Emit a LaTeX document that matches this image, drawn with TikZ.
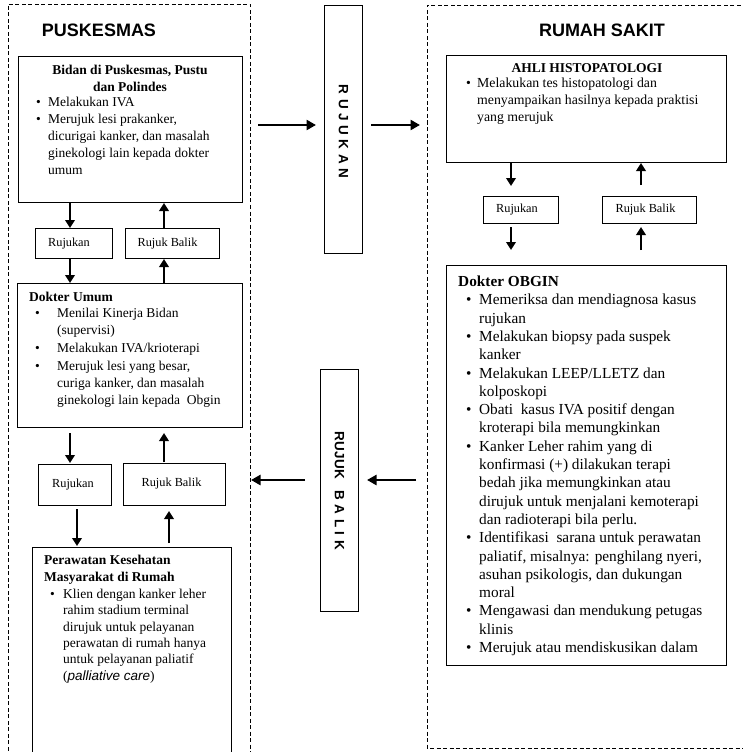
\documentclass[tikz,border=0pt]{standalone}
\usepackage{fontspec}
\setmainfont{Liberation Serif}
\setsansfont{Liberation Sans}
\usetikzlibrary{arrows.meta}
\newcommand\Bu[1]{\makebox[#1][l]{\textbullet}}
\newcommand\Co[1]{\hspace*{#1}}
\begin{document}
\begin{tikzpicture}[x=1pt,y=-1pt,
  frame/.style={line width=0.8pt, dash pattern=on 4pt off 2.5pt},
  box/.style={draw, line width=1pt, inner sep=0pt, anchor=north west},
  sbox/.style={box, font=\fontsize{12.3pt}{14pt}\selectfont},
  vbox/.style={box},
  arr/.style={line width=2.8pt, -{Triangle[length=8pt,width=9.5pt]}},
  harr/.style={line width=2.8pt, -{Triangle[length=9.5pt,width=10pt]}},
  title/.style={font=\sffamily\bfseries\fontsize{18pt}{20pt}\selectfont, inner sep=0pt},
  vtext/.style={font=\sffamily\bfseries\fontsize{13.5pt}{16pt}\selectfont, inner sep=0pt, rotate=-90},
  txt/.style={inner sep=0pt, align=left, anchor=north west, font=\fontsize{13.5pt}{17pt}\selectfont},
  txtc/.style={inner sep=0pt, align=center, anchor=north, font=\fontsize{13.5pt}{17pt}\selectfont\bfseries},
  big/.style={inner sep=0pt, align=left, anchor=north west, font=\fontsize{15.3pt}{18.3pt}\selectfont}
]
\useasboundingbox (0,0) rectangle (743,752);
\fill[white] (0,0) rectangle (743,752);

% frames
\draw[frame] (8,770) -- (8,4) -- (250,4) -- (250,770);
\draw[frame] (760,5) -- (427,5) -- (427,748) -- (760,748);

% titles
\node[title] (tpus) at (99,30) {PUSKESMAS};
\node[title] (trs) at (602,30) {RUMAH SAKIT};

% left column boxes
\node[box, minimum width=224pt, minimum height=146pt] (bidan) at (18,56) {};
\node[sbox, minimum width=77pt, minimum height=30pt] (rj1) at (35,228) {Rujukan\hspace*{10pt}};
\node[sbox, minimum width=94pt, minimum height=30pt] (rb1) at (125,228) {Rujuk Balik\hspace*{10pt}};
\node[box, minimum width=225pt, minimum height=144pt] (umum) at (17,283) {};
\node[sbox, minimum width=73pt, minimum height=41pt] (rj2) at (38,464) {\raisebox{3pt}{Rujukan\hspace*{4pt}}};
\node[sbox, minimum width=102pt, minimum height=42pt] (rb2) at (123,463) {\raisebox{4pt}{Rujuk Balik\hspace*{6pt}}};
\node[box, minimum width=199pt, minimum height=240pt] (rawat) at (32,547) {};

% middle boxes
\node[vbox, minimum width=38pt, minimum height=248pt] (rujukan) at (324,5) {};
\node[vtext] (rujukant) at ([yshift=-2pt]rujukan.center) {R\kern4.6pt U\kern4.6pt J\kern4.6pt U\kern4.6pt K\kern4.6pt A\kern4.6pt N};
\node[vbox, minimum width=38pt, minimum height=242pt] (balik) at (320,369) {};
\node[vtext] (balikt) at (balik.center) {R\kern0.5pt U\kern0.5pt J\kern0.5pt U\kern0.5pt K\kern11pt B\kern4.5pt A\kern4.5pt L\kern4.5pt I\kern4.5pt K};

% right column boxes
\node[box, minimum width=280pt, minimum height=107pt] (ahli) at (446,55) {};
\node[sbox, minimum width=75pt, minimum height=27pt] (rj3) at (483,196) {Rujukan\hspace*{8pt}};
\node[sbox, minimum width=94pt, minimum height=27pt] (rb3) at (602,196) {Rujuk Balik\hspace*{8pt}};
\node[box, minimum width=280pt, minimum height=400pt] (obgin) at (446,265) {};

% texts: Bidan
\node[txtc] (bidant) at (130,65) {Bidan di Puskesmas, Pustu\\dan Polindes};
\node[txt] (bidanl) at (36,97) {\Bu{12pt}Melakukan IVA\\
\Bu{12pt}Merujuk lesi prakanker,\\
\Co{12pt}dicurigai kanker, dan masalah\\
\Co{12pt}ginekologi lain kepada dokter\\
\Co{12pt}umum};

% Dokter Umum
\node[txt, font=\fontsize{13.5pt}{17pt}\selectfont\bfseries] (umumt) at (29,292) {Dokter Umum};
\node[txt] (umuml) at (35,308) {\Bu{22pt}Menilai Kinerja Bidan\\
\Co{22pt}(supervisi)\\[1pt]
\Bu{22pt}Melakukan IVA/krioterapi\\[1pt]
\Bu{22pt}Merujuk lesi yang besar,\\
\Co{22pt}curiga kanker, dan masalah\\
\Co{22pt}ginekologi lain kepada~ Obgin};

% Perawatan
\node[txt, font=\fontsize{13.5pt}{17pt}\selectfont\bfseries] (rawatt) at (44,555) {Perawatan Kesehatan\\Masyarakat di Rumah};
\node[txt, font=\fontsize{13.5pt}{16.3pt}\selectfont] (rawatl) at (50,589) {\Bu{13pt}Klien dengan kanker leher\\
\Co{13pt}rahim stadium terminal\\
\Co{13pt}dirujuk untuk pelayanan\\
\Co{13pt}perawatan di rumah hanya\\
\Co{13pt}untuk pelayanan paliatif\\
\Co{13pt}({\sffamily\itshape palliative care})};

% AHLI
\node[txtc] (ahlit) at (587,63) {AHLI HISTOPATOLOGI};
\node[txt, font=\fontsize{13.8pt}{16.8pt}\selectfont] (ahlil) at (466,78) {\Bu{11pt}Melakukan tes histopatologi dan\\
\Co{11pt}menyampaikan hasilnya kepada praktisi\\
\Co{11pt}yang merujuk};

% OBGIN
\node[big, font=\fontsize{15.3pt}{18.3pt}\selectfont\bfseries] (obgint) at (458,276) {Dokter OBGIN};
\node[big] (obginl) at (466,294) {\Bu{13pt}Memeriksa dan mendiagnosa kasus\\
\Co{13pt}rujukan\\
\Bu{13pt}Melakukan biopsy pada suspek\\
\Co{13pt}kanker\\
\Bu{13pt}Melakukan LEEP/LLETZ dan\\
\Co{13pt}kolposkopi\\
\Bu{13pt}Obati~ kasus IVA positif dengan\\
\Co{13pt}kroterapi bila memungkinkan\\
\Bu{13pt}Kanker Leher rahim yang di\\
\Co{13pt}konfirmasi (+) dilakukan terapi\\
\Co{13pt}bedah jika memungkinkan atau\\
\Co{13pt}dirujuk untuk menjalani kemoterapi\\
\Co{13pt}dan radioterapi bila perlu.\\
\Bu{13pt}Identifikasi~ sarana untuk perawatan\\
\Co{13pt}paliatif, misalnya: penghilang nyeri,\\
\Co{13pt}asuhan psikologis, dan dukungan\\
\Co{13pt}moral\\
\Bu{13pt}Mengawasi dan mendukung petugas\\
\Co{13pt}klinis\\
\Bu{13pt}Merujuk atau mendiskusikan dalam};

% vertical arrow x positions
\coordinate (xa) at (70,0);
\coordinate (xb) at (164,0);
\coordinate (xc) at (77,0);
\coordinate (xd) at (169,0);
\coordinate (xe) at (511,0);
\coordinate (xf) at (641,0);

\draw[arr] (bidan.south -| xa) -- (rj1.north -| xa);
\draw[arr] (rb1.north -| xb) -- (bidan.south -| xb);
\draw[arr] (rj1.south -| xa) -- (umum.north -| xa);
\draw[arr] (umum.north -| xb) -- (rb1.south -| xb);
\draw[arr, shorten <=5pt, shorten >=1pt] (umum.south -| xa) -- (rj2.north -| xa);
\draw[arr, shorten <=1pt, shorten >=5pt] (rb2.north -| xb) -- (umum.south -| xb);
\draw[arr, shorten <=3pt, shorten >=1pt] (rj2.south -| xc) -- (rawat.north -| xc);
\draw[arr, shorten <=4pt, shorten >=5pt] (rawat.north -| xd) -- (rb2.south -| xd);

\draw[arr, shorten >=10pt] (ahli.south -| xe) -- (rj3.north -| xe);
\draw[arr, shorten <=11pt] (rb3.north -| xf) -- (ahli.south -| xf);
\draw[arr, shorten <=3pt, shorten >=15pt] (rj3.south -| xe) -- (obgin.north -| xe);
\draw[arr, shorten <=15pt, shorten >=3pt] (obgin.north -| xf) -- (rb3.south -| xf);

% horizontal arrows
\coordinate (h1) at (258,125);
\coordinate (h2) at (420,125);
\coordinate (h3) at (251,480);
\coordinate (h4) at (416,480);
\draw[harr, shorten >=8pt] (h1) -- (rujukan.west |- h1);
\draw[harr, shorten <=8pt] (rujukan.east |- h2) -- (h2);
\draw[harr, shorten <=15pt] (balik.west |- h3) -- (h3);
\draw[harr, shorten >=8pt] (h4) -- (balik.east |- h4);
\end{tikzpicture}
\end{document}
